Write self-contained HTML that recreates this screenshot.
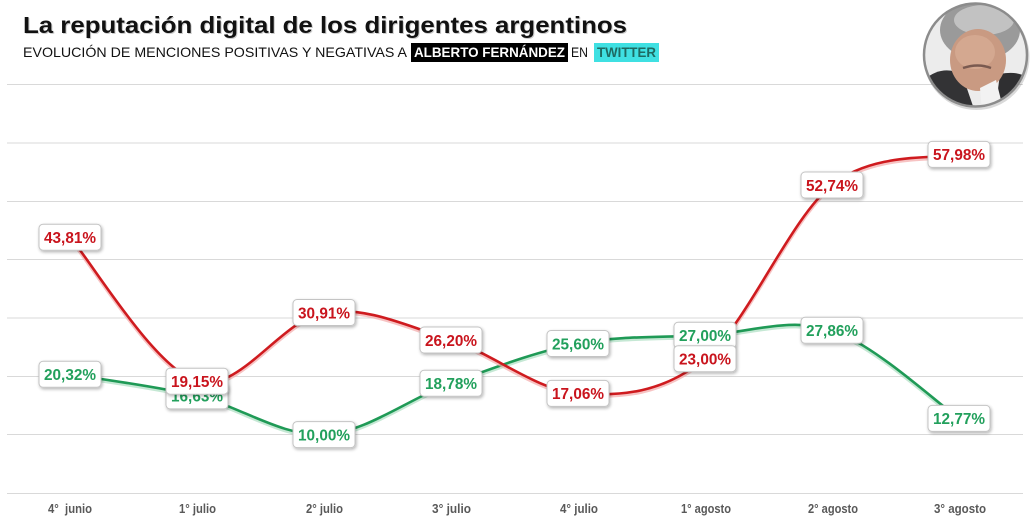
<!DOCTYPE html>
<html><head><meta charset="utf-8">
<style>
html,body{margin:0;padding:0;background:#fff;}
svg{display:block;}
text{font-family:"Liberation Sans",Arial,sans-serif;}
</style></head>
<body>
<svg width="1035" height="522" viewBox="0 0 1035 522" xmlns="http://www.w3.org/2000/svg">
<defs>
  <clipPath id="ph"><circle cx="975.5" cy="55" r="51"/></clipPath>
  <filter id="sh" x="-20%" y="-20%" width="140%" height="140%">
    <feGaussianBlur in="SourceAlpha" stdDeviation="1.5"/>
    <feOffset dx="1" dy="1.5"/>
    <feComponentTransfer><feFuncA type="linear" slope="0.3"/></feComponentTransfer>
    <feMerge><feMergeNode/><feMergeNode in="SourceGraphic"/></feMerge>
  </filter>
</defs>
<rect width="1035" height="522" fill="#fff"/>

<!-- gridlines -->
<g stroke="#d9d9d9" stroke-width="1">
  <line x1="7" y1="84.5" x2="1023" y2="84.5"/>
  <line x1="7" y1="143" x2="1023" y2="143"/>
  <line x1="7" y1="201.5" x2="1023" y2="201.5"/>
  <line x1="7" y1="259.5" x2="1023" y2="259.5"/>
  <line x1="7" y1="318" x2="1023" y2="318"/>
  <line x1="7" y1="376.5" x2="1023" y2="376.5"/>
  <line x1="7" y1="434.5" x2="1023" y2="434.5"/>
  <line x1="7" y1="493.5" x2="1023" y2="493.5"/>
</g>

<!-- title -->
<text x="24" y="34" font-size="23" font-weight="bold" fill="#ccc" textLength="604" lengthAdjust="spacingAndGlyphs">La reputación digital de los dirigentes argentinos</text>
<text x="23" y="33" font-size="23" font-weight="bold" fill="#111" textLength="604" lengthAdjust="spacingAndGlyphs">La reputación digital de los dirigentes argentinos</text>

<!-- subtitle -->
<text x="23" y="57" font-size="14" fill="#111" textLength="384" lengthAdjust="spacingAndGlyphs">EVOLUCIÓN DE MENCIONES POSITIVAS Y NEGATIVAS A</text>
<rect x="411" y="43" width="157" height="19" fill="#000"/>
<text x="414" y="57" font-size="14" font-weight="bold" fill="#fff" textLength="151" lengthAdjust="spacingAndGlyphs">ALBERTO FERNÁNDEZ</text>
<text x="571" y="57" font-size="14" fill="#111" textLength="17" lengthAdjust="spacingAndGlyphs">EN</text>
<rect x="594" y="43" width="65" height="19" fill="#3fe0e2"/>
<text x="597" y="57" font-size="14" font-weight="bold" fill="#1e6a62" textLength="59" lengthAdjust="spacingAndGlyphs">TWITTER</text>

<!-- photo -->
<circle cx="976.5" cy="57" r="53" fill="#000" opacity="0.15"/>
<g clip-path="url(#ph)">
  <rect x="920" y="0" width="112" height="112" fill="#ececec"/>
  <ellipse cx="980" cy="30" rx="40" ry="30" fill="#9a9a9a"/>
  <ellipse cx="984" cy="20" rx="30" ry="15" fill="#c2c2c2"/>
  <path d="M922,82 Q940,64 962,74 L975,112 L922,112 Z" fill="#333335"/>
  <path d="M1000,74 Q1020,70 1030,80 L1030,112 L995,112 Z" fill="#2f2f31"/>
  <ellipse cx="978" cy="60" rx="28" ry="31" fill="#c99a82"/>
  <ellipse cx="975" cy="52" rx="20" ry="17" fill="#d4a890"/>
  <path d="M963,68 Q978,63 991,68" stroke="#7a5a50" stroke-width="2.5" fill="none"/>
  <path d="M980,88 L996,80 L1004,112 L982,112 Z" fill="#f2f2f2"/>
</g>
<circle cx="975.5" cy="55" r="51.5" fill="none" stroke="#8c8c8c" stroke-width="2.5"/>

<!-- series lines -->
<g fill="none" stroke-linecap="round" stroke-linejoin="round">
  <path d="M70,374.3 C91.17,377.9 154.67,385.85 197,395.9 C239.33,405.95 281.67,436.7 324,434.6 C366.33,432.5 408.67,398.48 451,383.3 C493.33,368.12 535.67,351.5 578,343.5 C620.33,335.5 662.67,337.5 705,335.3 C747.33,333.1 789.67,316.45 832,330.3 C874.33,344.15 937.83,403.72 959,418.4" stroke="#9fd9b8" stroke-width="4" transform="translate(0,1.5)" opacity="0.6"/>
  <path d="M70,374.3 C91.17,377.9 154.67,385.85 197,395.9 C239.33,405.95 281.67,436.7 324,434.6 C366.33,432.5 408.67,398.48 451,383.3 C493.33,368.12 535.67,351.5 578,343.5 C620.33,335.5 662.67,337.5 705,335.3 C747.33,333.1 789.67,316.45 832,330.3 C874.33,344.15 937.83,403.72 959,418.4" stroke="#1f9a56" stroke-width="2.6"/>
  <path d="M70,237.2 C91.17,261.2 154.67,368.65 197,381.2 C239.33,393.75 281.67,319.37 324,312.5 C366.33,305.63 408.67,326.52 451,340 C493.33,353.48 535.67,390.28 578,393.4 C620.33,396.52 662.67,393.43 705,358.7 C747.33,323.97 789.67,219.05 832,185 C874.33,150.95 937.83,159.5 959,154.4" stroke="#f4aaaa" stroke-width="4" transform="translate(0,1.5)" opacity="0.7"/>
  <path d="M70,237.2 C91.17,261.2 154.67,368.65 197,381.2 C239.33,393.75 281.67,319.37 324,312.5 C366.33,305.63 408.67,326.52 451,340 C493.33,353.48 535.67,390.28 578,393.4 C620.33,396.52 662.67,393.43 705,358.7 C747.33,323.97 789.67,219.05 832,185 C874.33,150.95 937.83,159.5 959,154.4" stroke="#cf1b1f" stroke-width="2.6"/>
</g>

<!-- green labels -->
<g font-size="16" font-weight="bold" fill="#22a05c" text-anchor="middle">
  <g filter="url(#sh)">
    <rect x="39" y="361.3" width="62" height="26" rx="4" fill="#fff" stroke="#c4c4c4"/>
    <rect x="166" y="382.9" width="62" height="26" rx="4" fill="#fff" stroke="#c4c4c4"/>
    <rect x="293" y="421.6" width="62" height="26" rx="4" fill="#fff" stroke="#c4c4c4"/>
    <rect x="420" y="370.3" width="62" height="26" rx="4" fill="#fff" stroke="#c4c4c4"/>
    <rect x="547" y="330.5" width="62" height="26" rx="4" fill="#fff" stroke="#c4c4c4"/>
    <rect x="674" y="322.3" width="62" height="26" rx="4" fill="#fff" stroke="#c4c4c4"/>
    <rect x="801" y="317.3" width="62" height="26" rx="4" fill="#fff" stroke="#c4c4c4"/>
    <rect x="928" y="405.4" width="62" height="26" rx="4" fill="#fff" stroke="#c4c4c4"/>
  </g>
  <text x="70" y="380.1" textLength="52" lengthAdjust="spacingAndGlyphs">20,32%</text>
  <text x="197" y="401.7" textLength="52" lengthAdjust="spacingAndGlyphs">16,63%</text>
  <text x="324" y="440.4" textLength="52" lengthAdjust="spacingAndGlyphs">10,00%</text>
  <text x="451" y="389.1" textLength="52" lengthAdjust="spacingAndGlyphs">18,78%</text>
  <text x="578" y="349.3" textLength="52" lengthAdjust="spacingAndGlyphs">25,60%</text>
  <text x="705" y="341.1" textLength="52" lengthAdjust="spacingAndGlyphs">27,00%</text>
  <text x="832" y="336.1" textLength="52" lengthAdjust="spacingAndGlyphs">27,86%</text>
  <text x="959" y="424.2" textLength="52" lengthAdjust="spacingAndGlyphs">12,77%</text>
</g>

<!-- red labels -->
<g font-size="16" font-weight="bold" fill="#c9141d" text-anchor="middle">
  <g filter="url(#sh)">
    <rect x="39" y="224.2" width="62" height="26" rx="4" fill="#fff" stroke="#c4c4c4"/>
    <rect x="166" y="368.2" width="62" height="26" rx="4" fill="#fff" stroke="#c4c4c4"/>
    <rect x="293" y="299.5" width="62" height="26" rx="4" fill="#fff" stroke="#c4c4c4"/>
    <rect x="420" y="327" width="62" height="26" rx="4" fill="#fff" stroke="#c4c4c4"/>
    <rect x="547" y="380.4" width="62" height="26" rx="4" fill="#fff" stroke="#c4c4c4"/>
    <rect x="674" y="345.7" width="62" height="26" rx="4" fill="#fff" stroke="#c4c4c4"/>
    <rect x="801" y="172" width="62" height="26" rx="4" fill="#fff" stroke="#c4c4c4"/>
    <rect x="928" y="141.4" width="62" height="26" rx="4" fill="#fff" stroke="#c4c4c4"/>
  </g>
  <text x="70" y="243" textLength="52" lengthAdjust="spacingAndGlyphs">43,81%</text>
  <text x="197" y="387" textLength="52" lengthAdjust="spacingAndGlyphs">19,15%</text>
  <text x="324" y="318.3" textLength="52" lengthAdjust="spacingAndGlyphs">30,91%</text>
  <text x="451" y="345.8" textLength="52" lengthAdjust="spacingAndGlyphs">26,20%</text>
  <text x="578" y="399.2" textLength="52" lengthAdjust="spacingAndGlyphs">17,06%</text>
  <text x="705" y="364.5" textLength="52" lengthAdjust="spacingAndGlyphs">23,00%</text>
  <text x="832" y="190.8" textLength="52" lengthAdjust="spacingAndGlyphs">52,74%</text>
  <text x="959" y="160.2" textLength="52" lengthAdjust="spacingAndGlyphs">57,98%</text>
</g>

<!-- x axis labels -->
<g font-size="12.5" font-weight="bold" fill="#595959" text-anchor="middle">
  <text x="70" y="513" textLength="44" lengthAdjust="spacingAndGlyphs" xml:space="preserve">4°  junio</text>
  <text x="197.5" y="513" textLength="37" lengthAdjust="spacingAndGlyphs">1° julio</text>
  <text x="324.5" y="513" textLength="37" lengthAdjust="spacingAndGlyphs">2° julio</text>
  <text x="451.5" y="513" textLength="39" lengthAdjust="spacingAndGlyphs">3° julio</text>
  <text x="579" y="513" textLength="38" lengthAdjust="spacingAndGlyphs">4° julio</text>
  <text x="706" y="513" textLength="50" lengthAdjust="spacingAndGlyphs">1° agosto</text>
  <text x="833" y="513" textLength="50" lengthAdjust="spacingAndGlyphs">2° agosto</text>
  <text x="960" y="513" textLength="52" lengthAdjust="spacingAndGlyphs">3° agosto</text>
</g>
</svg>
</body></html>
